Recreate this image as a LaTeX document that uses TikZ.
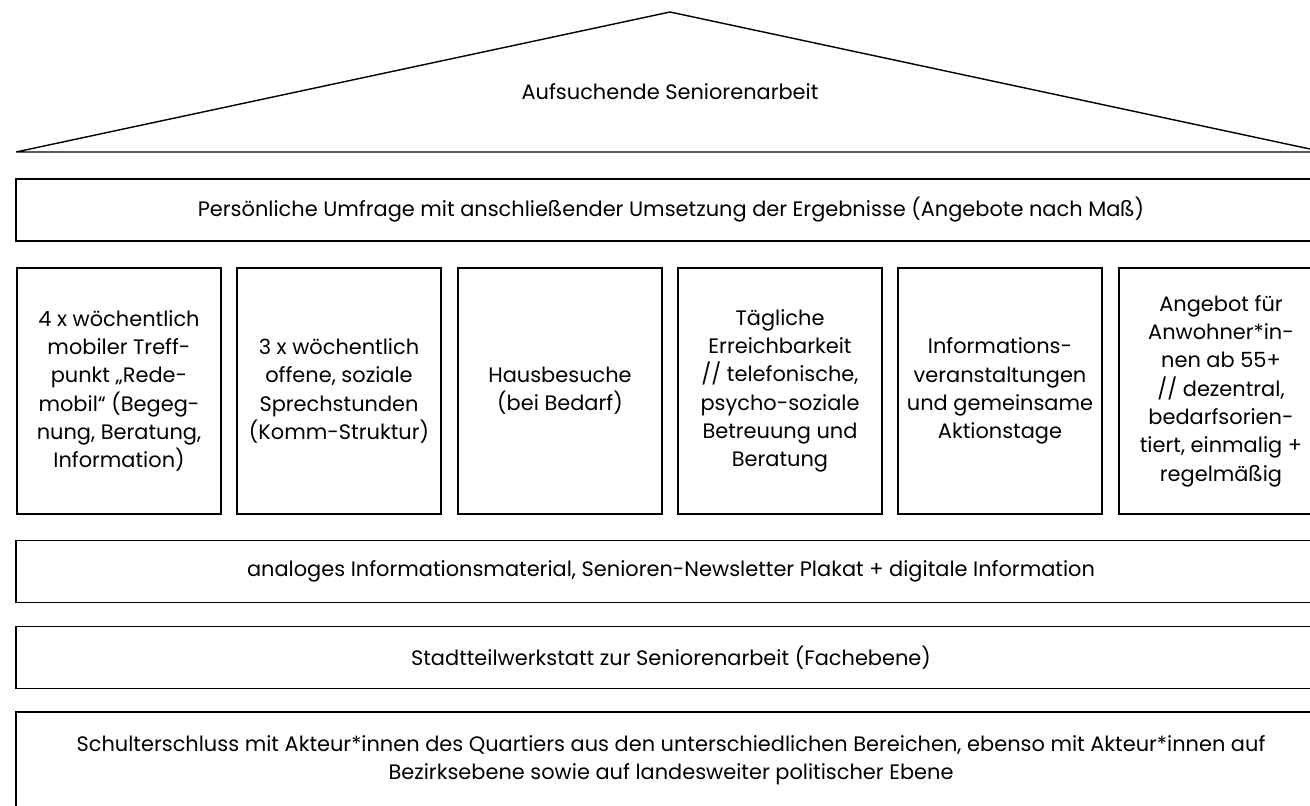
\documentclass[tikz,border=0pt]{standalone}
\usepackage{fontspec}
\setmainfont{Poppins}
\usetikzlibrary{calc}
\tikzstyle{band}=[draw, line width=0.8pt, minimum width=26.2cm, minimum height=1.24cm, inner sep=0pt, align=center]
\tikzstyle{pillar}=[draw, line width=0.8pt, minimum width=4.08cm, minimum height=4.92cm, inner sep=0pt, align=center]
\newcommand{\housefont}{\fontsize{11.9pt}{16.1pt}\selectfont}

\begin{document}
\begin{tikzpicture}[x=0.02cm, y=-0.02cm, line width=0.8pt, font=\housefont]
            \useasboundingbox (0,0) rectangle (1310,805);
            % roof
            \coordinate (apex) at (670,12);
            \coordinate (eaveL) at (16,152);
            \coordinate (eaveR) at (1324,152);
            \draw[line join=bevel] (eaveL) -- (apex) -- (eaveR) -- cycle;
            \node (roof) at (670,92) {Aufsuchende Seniorenarbeit};
            % bands and pillars
            \node[band] (umfrage) at (671,210) {Persönliche Umfrage mit anschließender Umsetzung der Ergebnisse (Angebote nach Maß)};
            \node[pillar] (treff) at (119,391) {4 x wöchentlich\\mobiler Treff-\\punkt „Rede-\\mobil“ (Begeg-\\nung, Beratung,\\Information)};
            \node[pillar] (sprech) at (339,391) {3 x wöchentlich\\offene, soziale\\Sprechstunden\\(Komm-Struktur)};
            \node[pillar] (haus) at (560,391) {Hausbesuche\\(bei Bedarf)};
            \node[pillar] (tel) at (780,391) {Tägliche\\Erreichbarkeit\\// telefonische,\\psycho-soziale\\Betreuung und\\Beratung};
            \node[pillar] (info) at (1000,391) {Informations-\\veranstaltungen\\und gemeinsame\\Aktionstage};
            \node[pillar] (ab55) at (1221,391) {Angebot für\\Anwohner*in-\\nen ab 55+\\// dezentral,\\bedarfsorien-\\tiert, einmalig +\\regelmäßig};
            \node[band] (material) at (671,571.5) {analoges Informationsmaterial, Senioren-Newsletter Plakat + digitale Information};
            \node[band] (werkstatt) at (671,657.5) {Stadtteilwerkstatt zur Seniorenarbeit (Fachebene)};
            \node[band, minimum height=1.92cm] (schulter) at (671,760) {Schulterschluss mit Akteur*innen des Quartiers aus den unterschiedlichen Bereichen, ebenso mit Akteur*innen auf\\Bezirksebene sowie auf landesweiter politischer Ebene};
        \end{tikzpicture}
\end{document}
